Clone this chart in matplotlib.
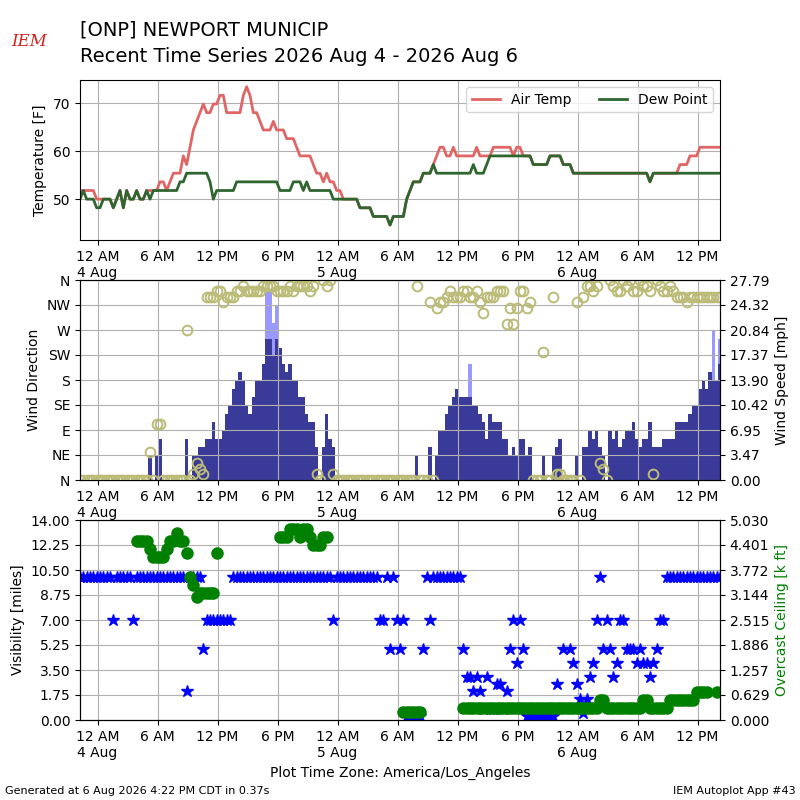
import numpy as np
import pandas as pd
import matplotlib
matplotlib.use("Agg")
import matplotlib.pyplot as plt
import matplotlib.dates as mdates
from matplotlib.ticker import FuncFormatter, FormatStrFormatter

# obs every 20 minutes (AWOS), local time America/Los_Angeles
times = pd.date_range("2026-08-03 22:15", periods=193, freq="20min")

air_temp = ([51.8] * 5 + [50.0] * 2
            + [50.0, 50.0, 50.0, 48.2, 50.0, 51.8, 48.2, 51.8, 50.0, 50.0, 51.8, 50.0, 50.0, 51.8]
            + [51.8]
            + [51.8, 51.8, 53.6, 53.6, 51.8, 53.6, 55.4, 55.4, 55.4, 59.0,
               57.2, 60.8, 64.4, 66.2, 68.0, 69.8, 68.0, 68.0, 69.8, 69.8,
               71.6, 71.6, 68.0, 68.0, 68.0, 68.0, 68.0, 71.6, 73.4, 71.6,
               68.0, 68.0, 66.2, 64.4, 64.4, 64.4, 66.2, 64.4, 64.4, 64.4,
               62.6, 62.6, 62.6, 60.8, 59.0, 59.0, 59.0, 59.0, 57.2, 55.4,
               55.4, 53.6, 55.4, 53.6, 53.6, 51.8, 51.8, 50.0]
            + [50.0] * 4 + [48.2] * 4 + [46.4] * 5 + [44.6] + [46.4] * 4
            + [50.0, 51.8] + [53.6] * 3 + [55.4] * 3
            + [57.2, 59.0, 60.8, 60.8, 59.0, 59.0, 60.8]
            + [59.0] * 6 + [60.8] + [59.0] * 4 + [60.8] * 6
            + [59.0, 60.8, 60.8] + [59.0] * 3
            + [57.2] * 5 + [59.0] * 4 + [57.2] * 3 + [55.4] * 23 + [53.6] + [55.4] * 8
            + [57.2, 57.2, 57.2, 59.0, 59.0, 59.0] + [60.8] * 7)

dew_point = ([50.0, 51.8, 50.0, 50.0, 50.0, 48.2, 48.2, 50.0, 50.0, 50.0, 48.2,
              50.0, 51.8, 48.2, 51.8, 50.0, 50.0, 51.8, 50.0, 50.0, 51.8, 50.0]
             + [51.8] * 8 + [53.6] * 2 + [55.4] * 7 + [53.6, 50.0] + [51.8] * 6
             + [53.6] * 13 + [51.8] * 4 + [53.6] * 3 + [51.8, 53.6] + [51.8] * 7
             + [50.0] * 8 + [48.2] * 4 + [46.4] * 5 + [44.6] + [46.4] * 4
             + [50.0, 51.8] + [53.6] * 3 + [55.4] * 3 + [57.2] + [55.4] * 11
             + [57.2] + [55.4] * 3 + [57.2] + [59.0] * 13 + [57.2] * 5 + [59.0] * 4
             + [57.2] * 3 + [55.4] * 23 + [53.6] + [55.4] * 21)

wind_mph = ([0.0] * 21 + [3.45, 0.0, 3.45, 5.75] + [0.0] * 7 + [5.75, 0.0]
            + [3.45, 3.45, 4.6, 4.6, 5.75, 5.75, 8.06, 5.75, 5.75, 6.9,
               9.2, 10.36, 12.66, 13.8, 14.96, 13.8, 10.36, 9.2, 11.5, 13.8,
               13.8, 16.1, 19.56, 19.56, 17.26, 19.56, 18.41, 16.1, 14.96, 16.1,
               13.8, 13.8, 11.5, 11.5, 9.2, 8.06, 8.06, 4.6, 0.0, 4.6,
               9.2, 5.75, 4.6]
            + [0.0] * 24 + [3.45] + [0.0] * 3 + [4.6, 0.0]
            + [3.45, 6.9, 6.9, 9.2, 10.36, 11.5, 12.66, 11.5, 11.5, 11.5,
               11.5, 10.36, 10.36, 9.2, 8.06, 5.75, 9.2, 8.06, 8.06, 8.06,
               5.75, 5.75, 3.45, 4.6, 3.45, 5.75, 5.75, 3.45, 4.6]
            + [0.0] * 3 + [3.45] + [0.0] * 2 + [3.45, 4.6, 5.75] + [0.0] * 4
            + [3.45, 0.0] + [4.6, 4.6, 6.9, 5.75, 6.9, 4.6, 3.45] + [0.0]
            + [6.9, 5.75, 6.9, 4.6, 5.75, 6.9, 6.9, 8.06, 5.75, 4.6,
               5.75, 5.75, 8.06, 4.6, 4.6, 4.6, 5.75, 5.75, 5.75, 5.75,
               8.06, 8.06, 8.06, 8.06, 9.2, 10.36, 10.36, 12.66, 13.8, 12.66,
               14.96, 13.8, 13.8, 16.1])

gust_mph = [np.nan] * 193
for idx, val in [(56, 26.468), (57, 26.468), (58, 21.86), (59, 24.17),
                 (117, 16.1), (190, 20.71), (192, 19.56)]:
    gust_mph[idx] = val

wind_dir = ([0] * 21 + [50, 0, 100, 100] + [0] * 7 + [270, 0] + [10, 30, 20, 10]
            + [330, 330, 330, 340, 340, 320, 330, 330, 330, 340, 340, 350,
               340, 340, 340, 340, 340, 350, 350, 350, 350, 340, 340, 340,
               340, 350, 340, 350, 350, 350, 350, 340, 350]
            + [10, 0, 360, 350, 360, 10] + [0] * 24 + [350, 0, 0, 0, 320, 0]
            + [310, 320, 320, 330, 340, 330, 330, 330, 340, 340, 330, 330,
               340, 320, 300, 330, 330, 330, 340, 340, 340, 280, 310, 280,
               310, 340, 340, 310, 320]
            + [0, 0, 0, 230, 0, 0, 330, 10, 10, 0, 0, 0, 0, 320, 0]
            + [330, 350, 350, 340, 350, 30, 20, 0]
            + [360, 350, 340, 340, 360, 350, 360, 340, 340, 360, 350, 350,
               340, 10, 360, 350, 340, 340, 350, 340, 330, 330, 330, 320]
            + [330] * 10)

nan = np.nan
visibility = ([10.0] * 10 + [7.0] + [10.0] * 5 + [7.0] + [10.0] * 15 + [2.0]
              + [10.0] * 4 + [5.0] + [7.0] * 8 + [10.0] * 30 + [7.0] + [10.0] * 13
              + [7.0, 7.0, 10.0, 5.0, 10.0, 7.0, 5.0, 7.0] + [0.25] * 5
              + [5.0, 10.0, 7.0] + [10.0] * 9
              + [5.0, 3.0, 3.0, 2.0, 3.0, 2.0, 0.75, 3.0, 0.75, 0.75, 2.5, 2.5,
                 0.75, 2.0, 5.0, 7.0, 4.0, 7.0, 5.0]
              + [0.25] * 9
              + [2.5, nan, 5.0, nan, 5.0, 4.0, 2.5, 1.5, 0.5, 1.5, 3.0, 4.0,
                 7.0, 10.0, 5.0, 7.0, 5.0, 3.0, 4.0, 7.0, 7.0, 5.0, 5.0, 5.0,
                 4.0, 5.0, 4.0, 4.0, 3.0, 4.0, 5.0, 7.0, 7.0]
              + [10.0] * 17)

ceiling_kft = ([nan] * 17 + [4.5] * 4 + [4.3] + [4.1] * 4 + [4.3, 4.5, 4.5, 4.7, 4.5, 4.5,
                                                            4.2, 3.6, 3.4, 3.1]
               + [3.2] * 5 + [4.2] + [nan] * 18
               + [4.6, 4.6, 4.6, 4.8, 4.8, 4.8, 4.6, 4.8, 4.8, 4.6, 4.4, 4.4, 4.4, 4.6, 4.6]
               + [nan] * 22 + [0.2] * 6 + [nan] * 12
               + [0.3] * 41 + [0.5] * 2 + [0.3] * 11 + [0.5] * 2 + [0.3] * 6
               + [0.5] * 8 + [0.7] * 4 + [nan, nan, 0.7, nan])

for name, series in [("air_temp", air_temp), ("dew_point", dew_point),
                     ("wind_mph", wind_mph), ("wind_dir", wind_dir),
                     ("visibility", visibility), ("ceiling_kft", ceiling_kft)]:
    assert len(series) == len(times), (name, len(series))

t = mdates.date2num(times.to_pydatetime())
air_temp = np.array(air_temp)
dew_point = np.array(dew_point)
wind_mph = np.array(wind_mph)
gust_mph = np.array(gust_mph)
wind_dir = np.array(wind_dir)
visibility = np.array(visibility)
ceiling_kft = np.array(ceiling_kft)


def time_label(x, pos):
    d = mdates.num2date(x)
    if d.hour == 0:
        return "12 AM\n%d Aug" % d.day
    if d.hour == 12:
        return "12 PM"
    return "%d %s" % (d.hour % 12, "AM" if d.hour < 12 else "PM")


def time_axis(ax):
    ax.xaxis.set_major_locator(mdates.HourLocator(byhour=[0, 6, 12, 18]))
    ax.xaxis.set_major_formatter(FuncFormatter(time_label))
    ax.set_xlim(t[0], t[-1])
    ax.grid(True)


fig = plt.figure(figsize=(8, 8), dpi=100)

fig.text(0.1, 0.955, "[ONP] NEWPORT MUNICIP", fontsize=14, va="baseline")
fig.text(0.1, 0.9225, "Recent Time Series 2026 Aug 4 - 2026 Aug 6", fontsize=14,
         va="baseline")
fig.text(0.036, 0.948, "IEM", color="#d42020", fontsize=12, style="italic",
         family="DejaVu Serif", ha="center", va="center")

# temperature
ax1 = fig.add_axes([0.1, 0.7, 0.8, 0.2])
ax1.plot(t, air_temp, color="#e06666", lw=2, label="Air Temp")
ax1.plot(t, dew_point, color="#2f662f", lw=2, label="Dew Point")
ax1.set_ylim(41.5, 74.8)
ax1.set_yticks([50, 60, 70])
ax1.set_ylabel("Temperature [F]")
ax1.legend(loc="upper right", ncol=2)
time_axis(ax1)

# wind
ax2 = fig.add_axes([0.1, 0.4, 0.8, 0.25])
ax2b = ax2.twinx()
width = 20.0 / 1440.0
has_gust = ~np.isnan(gust_mph)
ax2b.bar(t[has_gust], gust_mph[has_gust], width=width, color="#9999ff")
ax2b.bar(t, wind_mph, width=width, color="#3a3a98")
speed_top = np.nanmax(gust_mph) * 1.05
ax2b.set_ylim(0, speed_top)
ax2b.set_yticks(np.linspace(0, speed_top, 9))
ax2b.yaxis.set_major_formatter(FormatStrFormatter("%.2f"))
ax2b.set_ylabel("Wind Speed [mph]")
ax2.set_zorder(ax2b.get_zorder() + 1)
ax2.patch.set_visible(False)
ax2.plot(t, wind_dir, "o", mfc="none", mec="#bbbb77", ms=7, mew=1.4)
ax2.set_ylim(0, 360)
ax2.set_yticks(np.arange(0, 361, 45))
ax2.set_yticklabels(["N", "NE", "E", "SE", "S", "SW", "W", "NW", "N"])
ax2.set_ylabel("Wind Direction")
time_axis(ax2)
ax2b.set_xlim(t[0], t[-1])

# visibility / ceiling
ax3 = fig.add_axes([0.1, 0.1, 0.8, 0.25])
ax3.plot(t, visibility, "*", color="blue", ms=9)
ax3.set_ylim(0, 14)
ax3.set_yticks(np.arange(0, 14.01, 1.75))
ax3.yaxis.set_major_formatter(FormatStrFormatter("%.2f"))
ax3.set_ylabel("Visibility [miles]")
time_axis(ax3)
ax3.set_xlabel("Plot Time Zone: America/Los_Angeles")
ax3b = ax3.twinx()
ax3b.plot(t, ceiling_kft, "o", color="green", ms=8)
ceil_top = 5.0298
ax3b.set_ylim(0, ceil_top)
ax3b.set_yticks(np.linspace(0, ceil_top, 9))
ax3b.yaxis.set_major_formatter(FormatStrFormatter("%.3f"))
ax3b.set_ylabel("Overcast Ceiling [k ft]", color="green")
ax3b.set_xlim(t[0], t[-1])

fig.text(0.006, 0.008, "Generated at 6 Aug 2026 4:22 PM CDT in 0.37s", fontsize=8)
fig.text(0.994, 0.008, "IEM Autoplot App #43", fontsize=8, ha="right")

fig.savefig("out.png", dpi=100)
plt.close()
